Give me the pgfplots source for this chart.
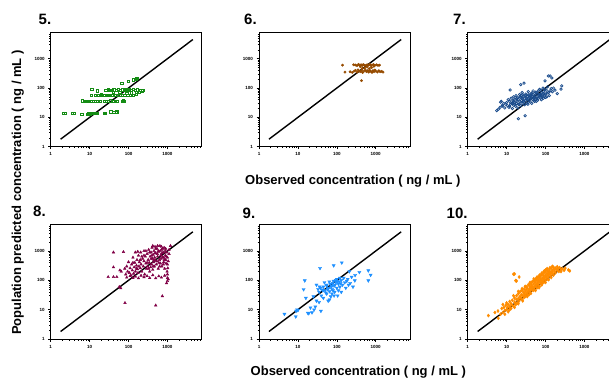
\documentclass[border=0pt]{standalone}
\usepackage{fontspec}
\setmainfont{Liberation Sans}
\usepackage{pgfplots}
\pgfplotsset{compat=1.18}
\definecolor{cgreen}{RGB}{20,140,20}
\definecolor{cbrown}{RGB}{150,75,0}
\definecolor{cblue}{RGB}{25,75,140}
\definecolor{cmaroon}{RGB}{128,0,70}
\definecolor{cdodger}{RGB}{30,144,255}
\definecolor{corange}{RGB}{255,140,0}
\pgfplotsset{
  scale only axis, width=151pt, height=114.5pt,
  xmin=1, xmax=7600, ymin=1, ymax=8000,
  xtick={1,10,100,1000}, xticklabels={1,10,100,1000},
  ytick={1,10,100,1000}, yticklabels={1,10,100,1000},
  minor xtick={2,3,4,5,6,7,8,9,20,30,40,50,60,70,80,90,200,300,400,500,600,700,800,900,2000,3000,4000,5000,6000,7000},
  minor ytick={2,3,4,5,6,7,8,9,20,30,40,50,60,70,80,90,200,300,400,500,600,700,800,900,2000,3000,4000,5000,6000,7000},
  tick pos=left, tick align=outside,
  major tick length=2.5pt, minor tick length=1.5pt,
  axis line style={line width=1pt},
  every tick/.style={black, line width=0.6pt},
  tick label style={font=\bfseries\fontsize{4.5}{5}\selectfont},
}
\begin{document}
\begin{tikzpicture}[x=1pt,y=1pt]
\path[use as bounding box] (0,0) rectangle (609,378);

% ---------- Panel 5 ----------
\begin{loglogaxis}[anchor=south west, at={(50.7pt,231.3pt)}]
\addplot[only marks, mark=square, mark size=1.15pt, cgreen, line width=0.6pt] coordinates {
(2.1,13.5)(2.4,14)(3.6,13.5)(4.0,13.5)(6.3,13)(8.7,13)(9.5,14)(10.5,12.5)(11,13.5)(12,14)(13,13.5)(14.5,14)(16,13.5)(24,14)(25,13.5)
(35,15.5)(42,15)(48,14.5)(50,15.5)
(6.6,37)(7.2,36)(8,36)(9,36)(10,36)(11,36)(12.5,36)(14,36)(16,36)(18.6,36)(24,36)(27,36)(30,36)(34,37)(40,36)(45,36)(50,36)(68,36)(72,37)(76,36)
(11,58)(14,56)(17,57)(20,56)(24,58)(28,57)(32,58)(38,56)(45,57)(52,58)(60,56)(70,57)(80,58)(95,56)(110,57)(130,58)(160,60)
(26,86)(30,88)(33,84)(37,86)(42,88)(48,85)(55,90)(62,86)(70,88)(78,84)(85,90)(95,86)(105,88)(120,84)(135,90)(150,86)(170,88)(200,84)(234,86)
(11.3,92)(16,80)(67,146)(100,166)(132,190)(162,210)(155,200)(160,70)(190,72)(230,80)(40,70)(60,70)(90,65)(120,68)(30,55)(20,60)
};
\addplot[black, line width=1.4pt] coordinates {(1.8,1.8)(4500,4500)};
\end{loglogaxis}

% ---------- Panel 6 ----------
\begin{loglogaxis}[anchor=south west, at={(259pt,231.3pt)}]
\addplot[only marks, mark=*, mark size=1.2pt, cbrown, draw=cbrown, fill=cbrown] coordinates {
(140,600)(270,620)(300,610)(330,580)(360,640)(390,600)(420,620)(450,590)(480,630)(520,600)(560,580)(600,620)(650,600)(700,640)(750,590)(800,610)(870,630)(950,600)(1050,620)(1150,590)(1250,600)
(400,540)(600,520)(900,550)
(162,350)(220,360)(250,340)(280,380)(300,400)(330,350)(350,420)(370,380)(400,360)(430,400)(460,340)(500,380)(540,410)(580,360)(620,390)(660,350)(700,400)(750,370)(800,340)(850,390)(900,360)(950,410)(1000,380)(1100,350)(1200,390)(1300,360)(1420,370)(1540,350)
(430,178)(450,470)(520,480)(680,460)(780,500)
};
\addplot[black, line width=1.4pt] coordinates {(1.8,1.8)(4500,4500)};
\end{loglogaxis}

% ---------- Panel 7 ----------
\begin{loglogaxis}[anchor=south west, at={(467.7pt,231.3pt)}]
\addplot[only marks, mark=o, mark size=1.25pt, cblue, line width=0.7pt] coordinates {
(5.6,17)(6.2,19)(6.8,22)(7,33)(7.3,35)(7.8,26)(8,24)(8.5,30)(9,21)(9.5,28)
(10,32)(10.5,25)(11,40)(11.5,22)(12,35)(12.3,86)(12.5,28)(13,45)(13.5,30)(14,20)(14.5,38)(15,26)(15,50)
(16,33)(16.5,42)(17,24)(17.5,55)(18,30)(18.5,36)(19,46)(19.5,21)(20,9)(20,40)(21,28)(21.5,60)(22,34)(22.5,48)(23,130)(23,25)(24,38)(24.5,55)(25,30)(25,70)
(26,42)(27,34)(28,146)(28,50)(29,27)(30,11.4)(30,38)(31,62)(32,45)(33,30)(34,52)(35,40)(36,75)(37,33)(38,48)(39,58)(40,36)
(41,44)(43,65)(44,30)(45,52)(47,40)(48,80)(50,46)(52,35)(54,58)(56,42)(58,70)(60,50)(62,38)(64,62)(66,45)(68,55)(70,90)
(72,48)(75,60)(78,40)(80,68)(83,52)(86,100)(88,45)(90,75)(93,58)(97,175)(100,62)(104,85)(108,50)(112,110)(118,258)(120,70)(125,55)(131,258)(140,95)(145,220)(150,75)(160,100)(175,85)(200,65)(250,91)(260,118)
(15,35)(18,44)(20,28)(22,52)(25,45)(28,36)(30,55)(33,42)(36,58)(40,48)(45,68)(50,38)(55,72)(60,42)(65,80)(70,60)(80,50)(90,62)(100,48)(110,68)(12,24)(14,30)(16,28)(26,60)(35,28)(42,55)(48,60)(52,48)(58,35)(75,85)(95,90)(130,80)
};
\addplot[black, line width=1.4pt] coordinates {(1.8,1.8)(4500,4500)};
\end{loglogaxis}

% ---------- Panel 8 ----------
\begin{loglogaxis}[anchor=south west, at={(50.7pt,39pt)}]
\addplot[only marks, mark=triangle*, mark size=1.5pt, cmaroon, draw=cmaroon, fill=cmaroon] coordinates {
(41,900)(74,930)(173,950)(41,280)(30,130)(41,130)(50,130)(60,220)(65,200)(63,54)(58,60)(81,17)(500,14)(740,29)(80,250)
(90,125)(110,140)(130,120)(150,135)(180,118)(210,145)(250,128)(300,140)(350,120)(420,150)(500,118)(600,138)(700,125)(850,145)(1000,120)
(950,80)(1000,95)(1050,110)(1000,160)(980,200)(1020,260)(1000,350)(1050,450)(1000,600)(1100,800)(1100,1100)
(85,160)(90,300)(95,200)(100,420)(105,180)(110,260)(115,150)(120,350)(125,220)(130,600)(135,170)(140,280)(145,400)(150,200)
(160,320)(165,500)(170,240)(175,180)(180,700)(185,300)(190,420)(200,260)(205,900)(210,350)(220,200)(230,550)(240,300)(250,450)(260,160)(270,650)(280,380)(290,250)(300,800)
(310,300)(320,500)(330,1100)(340,400)(350,200)(360,650)(370,280)(380,900)(390,350)(400,1300)(410,550)(420,230)(430,750)(440,420)(450,1000)(460,300)(470,600)(480,1400)(490,480)(500,850)(520,350)(540,1200)(560,650)(580,250)(600,950)
(620,500)(640,1500)(660,380)(680,750)(700,1100)(720,300)(750,600)(780,900)(800,420)(820,1300)(850,250)(880,700)(900,500)(920,380)(950,900)(1200,1500)
(200,500)(250,700)(300,400)(350,900)(400,700)(450,500)(500,1200)(550,800)(600,400)(650,1000)(700,700)(750,1200)(800,600)(130,400)(160,250)(220,650)(280,1000)(330,250)(380,550)(430,300)(480,850)(530,450)(580,1000)(630,300)(680,550)(730,850)(780,350)(830,500)(880,1000)(930,650)(150,900)(250,1000)(420,1500)(560,1500)(700,1400)(900,1200)
};
\addplot[black, line width=1.4pt] coordinates {(1.8,1.8)(4500,4500)};
\end{loglogaxis}

% ---------- Panel 9 ----------
\begin{loglogaxis}[anchor=south west, at={(259pt,39pt)}]
\addplot[only marks, mark=triangle*, mark options={rotate=180}, mark size=1.8pt, cdodger, draw=cdodger, fill=cdodger] coordinates {
(4.5,7.1)(8.8,5.8)(9,9)(9.5,10)(10,9.5)(18,7.7)(19,7.5)(21,11.7)(23,8)(28,12.6)(39,9)(26,10)
(15,98)(14,49)(16,25)(37,260)(83,320)(134,400)(645,215)(740,152)(645,98)(380,190)(295,150)(290,98)
(25,28)(30,70)(33,50)(35,40)(38,55)(40,30)(42,48)(45,60)(48,85)(50,45)(52,38)(55,65)(58,50)(60,20)(62,55)(65,42)(68,75)(70,28)(72,60)(75,50)(78,80)(80,45)(82,95)(85,65)(88,40)(90,70)(95,85)(100,55)(100,110)(105,30)(110,75)(115,90)(120,60)(125,80)(130,100)(140,70)(150,120)(160,85)(170,55)(180,95)(190,110)(200,70)(210,200)(220,80)(240,130)(260,60)
(30,20)(35,18)(45,25)(55,35)(65,22)(75,35)(85,30)(110,45)(130,40)(36,60)(44,45)(54,70)(64,90)(74,65)(94,100)(104,95)(120,120)
};
\addplot[black, line width=1.4pt] coordinates {(1.8,1.8)(4500,4500)};
\end{loglogaxis}

% ---------- Panel 10 ----------
\begin{loglogaxis}[anchor=south west, at={(467.7pt,39pt)}]
\addplot[only marks, mark=diamond*, mark size=1.6pt, corange, draw=corange, fill=corange] coordinates {
(3.4,6.3)(6.1,5.1)(5,8)(6,9)(7,7)(7.5,11)(8,8)(8.5,12)(9,9.5)(9.5,14)(10,10)(10,17)(10.5,12)(11,8.5)(11,15)(12,13)(12,19)(13,11)(13,16)(14,14)(14,21)
(15,162)(16,165)(21,130)(17,98)(18,95)
(16,18)(15,13)(16,25)(17,15)(18,22)(18,30)(19,17)(20,24)(20,35)(21,20)(22,28)(22,40)(23,25)(24,32)(25,22)(25,45)(26,30)(27,38)(28,50)(28,26)(29,34)(30,42)(30,60)(31,30)(32,48)(33,36)(34,55)(35,40)(36,70)(37,45)(38,33)(39,52)(40,62)(40,80)
(42,46)(43,58)(44,70)(45,52)(46,90)(47,60)(48,45)(50,75)(50,100)(52,58)(54,85)(55,66)(56,110)(58,72)(60,95)(60,55)(62,80)(63,120)(65,70)(66,100)(68,88)(70,130)(70,62)(72,95)(74,110)(75,80)(77,150)(78,100)(80,75)(82,120)(84,90)(85,160)(88,110)(90,85)(90,140)(92,180)(95,120)(98,100)
(100,150)(100,200)(105,130)(108,170)(110,110)(112,220)(115,150)(118,190)(120,130)(125,240)(128,170)(130,200)(135,150)(140,260)(145,190)(150,220)(155,170)(160,280)(165,240)(170,200)(180,260)(190,230)(200,290)(210,250)(220,200)(230,270)(250,230)(270,250)(300,220)(320,260)(386,226)(420,210)
(24,45)(32,60)(38,70)(44,85)(52,95)(58,110)(64,130)(72,140)(80,170)(95,210)(110,250)(130,270)(150,300)(12,10)(16,12)(20,16)(26,20)(34,28)(42,36)(55,45)(68,56)
(30,28)(35,32)(40,38)(50,48)(60,58)(80,70)(100,85)(120,105)(140,125)(30,62)(40,85)(50,112)(60,128)(70,150)(80,175)(90,200)(100,225)(20,42)(25,52)(15,30)(8,15)(9,7)(12,10.5)(18,16)(160,150)(200,220)(250,200)(180,180)(120,160)(140,180)
};
\addplot[black, line width=1.4pt] coordinates {(1.8,1.8)(4500,4500)};
\end{loglogaxis}

% ---------- Labels ----------
\node[anchor=base west, font=\bfseries\fontsize{15}{16}\selectfont, inner sep=0pt] at (38.5,353) {5.};
\node[anchor=base west, font=\bfseries\fontsize{15}{16}\selectfont, inner sep=0pt] at (244,353) {6.};
\node[anchor=base west, font=\bfseries\fontsize{15}{16}\selectfont, inner sep=0pt] at (453,353) {7.};
\node[anchor=base west, font=\bfseries\fontsize{15}{16}\selectfont, inner sep=0pt] at (33,161.3) {8.};
\node[anchor=base west, font=\bfseries\fontsize{15}{16}\selectfont, inner sep=0pt] at (242.5,160) {9.};
\node[anchor=base west, font=\bfseries\fontsize{15}{16}\selectfont, inner sep=0pt] at (446.5,160) {10.};
\node[anchor=base west, font=\bfseries\fontsize{13}{14}\selectfont, inner sep=0pt] at (245,193.5) {Observed concentration ( ng / mL )};
\node[anchor=base west, font=\bfseries\fontsize{13}{14}\selectfont, inner sep=0pt] at (250.5,2.5) {Observed concentration ( ng / mL )};
\node[anchor=base west, rotate=90, font=\bfseries\fontsize{13}{14}\selectfont, inner sep=0pt] at (21,43) {Population predicted concentration ( ng / mL )};
\end{tikzpicture}
\end{document}
